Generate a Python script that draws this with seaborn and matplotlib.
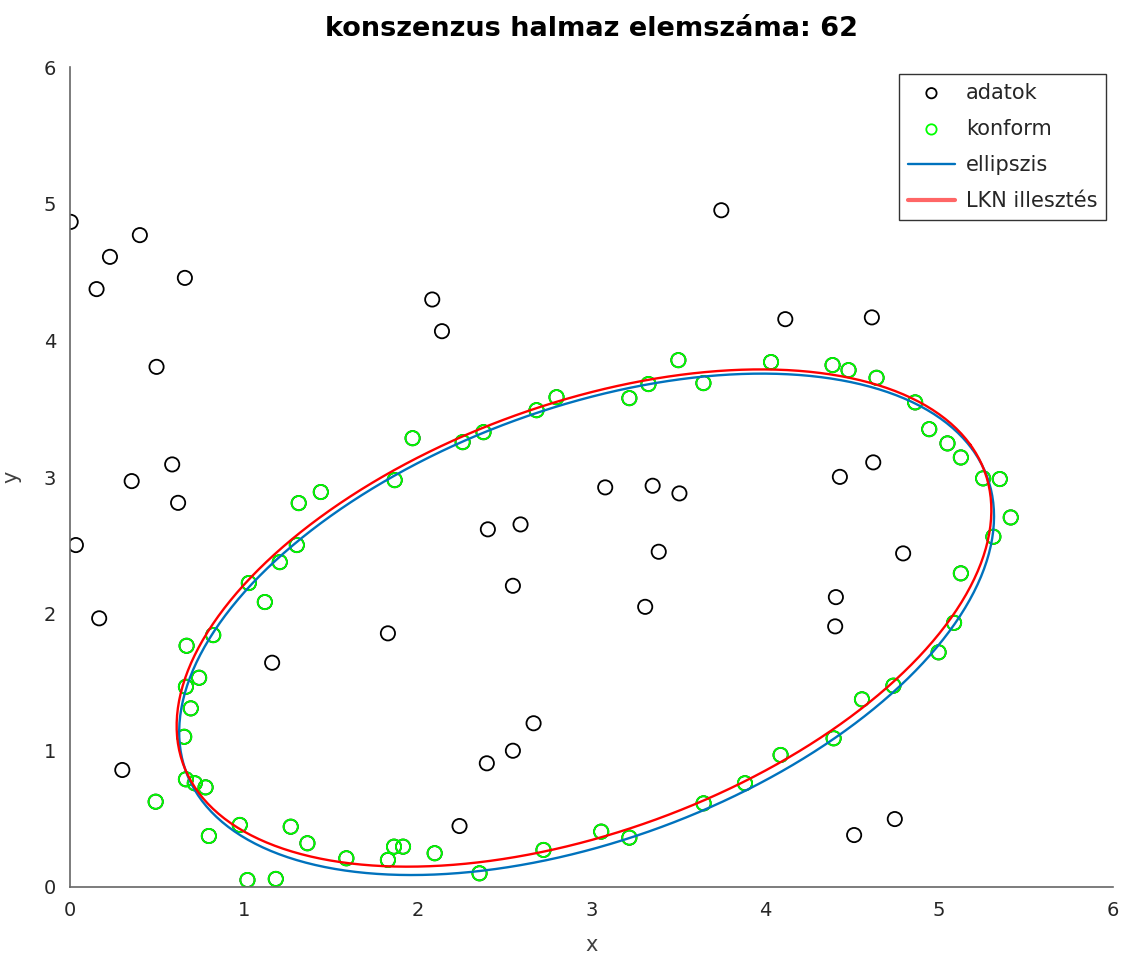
import numpy as np
import pandas as pd
import matplotlib
matplotlib.use("Agg")
import matplotlib.pyplot as plt
import seaborn as sns

# outliers (black circles, "adatok" that are not in the consensus set)
kivul_x = [0.004, 0.153, 0.230, 0.402, 0.661, 0.498, 0.588, 0.355, 0.622, 0.034,
           0.168, 0.301, 1.163, 2.084, 2.140, 1.829, 2.404, 2.592, 2.548, 3.079,
           3.352, 3.506, 3.387, 3.309, 2.667, 2.548, 2.398, 2.241, 3.747, 4.115,
           4.613, 4.429, 4.621, 4.793, 4.406, 4.402, 4.511, 4.745]
kivul_y = [4.867, 4.375, 4.611, 4.770, 4.457, 3.806, 3.092, 2.970, 2.811, 2.502,
           1.966, 0.856, 1.641, 4.299, 4.067, 1.856, 2.617, 2.653, 2.204, 2.924,
           2.936, 2.880, 2.453, 2.050, 1.198, 0.997, 0.905, 0.446, 4.952, 4.155,
           4.168, 3.001, 3.107, 2.441, 2.121, 1.907, 0.380, 0.497]

# consensus set (green circles)
konform_x = [1.029, 1.121, 1.207, 1.305, 1.316, 1.443, 1.868, 1.971, 2.259, 2.379,
             2.684, 2.799, 3.218, 3.328, 3.500, 3.644, 4.033, 4.387, 4.479, 4.640,
             4.862, 4.943, 5.048, 5.125, 5.253, 5.349, 5.412, 5.312, 5.125, 5.086,
             4.997, 4.737, 4.556, 4.393, 4.088, 3.883, 3.645, 3.218, 3.056, 2.724,
             2.356, 2.098, 1.916, 1.864, 1.829, 1.590, 1.366, 1.270, 1.184, 1.021,
             0.977, 0.799, 0.493, 0.780, 0.718, 0.667, 0.657, 0.695, 0.667, 0.743,
             0.671, 0.824]
konform_y = [2.224, 2.085, 2.377, 2.502, 2.809, 2.890, 2.977, 3.284, 3.255, 3.328,
             3.489, 3.584, 3.577, 3.680, 3.855, 3.687, 3.841, 3.819, 3.782, 3.726,
             3.546, 3.350, 3.246, 3.143, 2.990, 2.985, 2.704, 2.563, 2.295, 1.933,
             1.717, 1.473, 1.373, 1.088, 0.966, 0.759, 0.612, 0.361, 0.405, 0.271,
             0.100, 0.247, 0.295, 0.295, 0.198, 0.210, 0.320, 0.441, 0.059, 0.051,
             0.454, 0.373, 0.624, 0.729, 0.759, 0.788, 1.099, 1.307, 1.465, 1.531,
             1.765, 1.843]

# ellipse parameters: center x, center y, semi-axis a, semi-axis b, angle (deg)
ellipszis_par = [2.972, 1.922, 2.562, 1.515, 30.05]
lkn_par = [2.957, 1.968, 2.559, 1.501, 29.74]


def ellipse_df(par, n=400):
    cx, cy, a, b, ang = par
    t = np.linspace(0, 2 * np.pi, n)
    phi = np.deg2rad(ang)
    x = cx + a * np.cos(t) * np.cos(phi) - b * np.sin(t) * np.sin(phi)
    y = cy + a * np.cos(t) * np.sin(phi) + b * np.sin(t) * np.cos(phi)
    return pd.DataFrame({'x': x, 'y': y, 'i': np.arange(n)})


sns.set_style('white')
plt.rcParams['font.family'] = ['DejaVu Sans']

fig = plt.figure(figsize=(11.25, 9.59), dpi=100)
ax = fig.add_axes([0.0622, 0.0751, 0.9271, 0.855])

adatok = pd.DataFrame({'x': kivul_x + konform_x, 'y': kivul_y + konform_y})
konform = pd.DataFrame({'x': konform_x, 'y': konform_y})

sns.scatterplot(data=adatok, x='x', y='y', ax=ax, marker='o', s=105,
                facecolors='none', edgecolor='black', linewidth=1.3, label='adatok')
sns.scatterplot(data=konform, x='x', y='y', ax=ax, marker='o', s=105,
                facecolors='none', edgecolor='#00ff00', linewidth=1.3, label='konform')
sns.lineplot(data=ellipse_df(ellipszis_par), x='x', y='y', ax=ax, sort=False,
             estimator=None, color='#0072bd', linewidth=1.7, label='ellipszis')
sns.lineplot(data=ellipse_df(lkn_par), x='x', y='y', ax=ax, sort=False,
             estimator=None, color='#ff0000', linewidth=1.7, label='LKN illesztés')

ax.set_xlim(0, 6)
ax.set_ylim(0, 6)
ax.set_xticks(range(7))
ax.set_yticks(range(7))
sns.despine(ax=ax)
for s in ['left', 'bottom']:
    ax.spines[s].set_color('#666666')
    ax.spines[s].set_linewidth(1.2)
ax.tick_params(direction='in', length=7, width=1.2, color='#555555',
               labelsize=14, labelcolor='#262626', pad=10)
ax.set_xlabel('x', fontsize=15, color='#404040', labelpad=11)
ax.set_ylabel('y', fontsize=15, color='#404040', labelpad=16)
ax.set_title('konszenzus halmaz elemszáma: 62', fontsize=19.5, fontweight='bold',
             color='black', pad=22)

leg = ax.legend(loc='upper right', fontsize=15, fancybox=False, framealpha=1,
                edgecolor='#333333', borderaxespad=0.35, handlelength=2.3,
                handletextpad=0.5, labelspacing=0.78, borderpad=0.4)
for h in leg.legend_handles[:2]:
    h.set_sizes([55])
leg.legend_handles[3].set_alpha(0.6)
leg.legend_handles[3].set_linewidth(3)
leg.get_frame().set_linewidth(1.0)

fig.savefig('out.png', dpi=100)
